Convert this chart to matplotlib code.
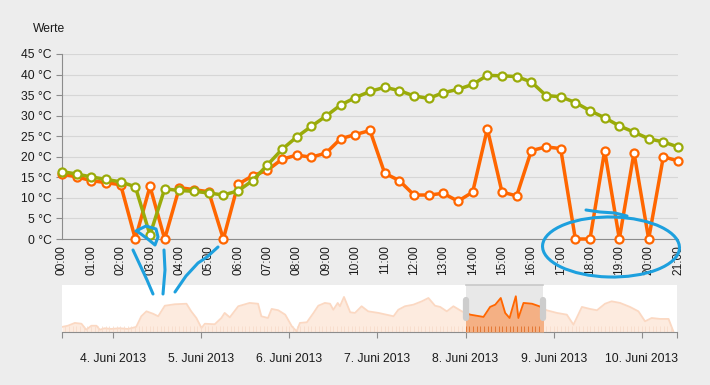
import numpy as np
import matplotlib
matplotlib.use('Agg')
import matplotlib.pyplot as plt
from matplotlib.patches import Ellipse, Rectangle
from matplotlib.lines import Line2D

plt.rcParams['font.family'] = ['Liberation Sans', 'DejaVu Sans']

# main chart data: 8. Juni 2013, every 30 minutes
time_labels = ['%02d:00' % h for h in range(22)]
hours = np.arange(0, 21.5, 0.5)

orange_vals = [15.8, 15.1, 14.2, 13.7, 13.2, 0, 12.8, 0, 12.5, 12.0, 11.5, 0,
               13.3, 15.4, 16.7, 19.4, 20.4, 19.9, 20.9, 24.4, 25.4, 26.4,
               16.0, 14.2, 10.7, 10.7, 11.1, 9.2, 11.4, 26.8, 11.4, 10.5,
               21.5, 22.4, 22.0, 0, 0, 21.5, 0, 21.0, 0, 20.0, 19.0]
green_vals = [16.4, 15.8, 15.1, 14.5, 13.9, 12.7, 1.0, 12.2, 11.8, 11.6, 11.2, 10.7,
              11.7, 14.2, 18.0, 21.8, 24.8, 27.4, 29.9, 32.6, 34.4, 35.9,
              36.9, 36.1, 34.8, 34.2, 35.6, 36.4, 37.6, 39.8, 39.7, 39.5,
              38.2, 34.9, 34.6, 33.2, 31.2, 29.5, 27.5, 26.0, 24.4, 23.6, 22.4]

# navigator data: hours since 3. Juni 2013 00:00
nav_hours = [10.1, 11.7, 13.6, 15.4, 16.7, 18.1, 19.5, 20.4, 21.7, 23.5,
             25.8, 28.1, 30.3, 31.7, 33.1, 34.9, 36.3, 38.1, 40.8, 44.0,
             45.3, 46.7, 48.1, 49.0, 51.7, 53.5, 54.4, 55.8, 58.1, 61.2,
             63.5, 64.4, 66.2, 67.2, 69.0, 70.9, 72.7, 74.0, 74.9, 76.8,
             78.6, 79.9, 81.7, 83.1, 84.0, 85.2, 85.8, 86.9, 88.6, 89.9,
             91.7, 93.5, 96.3, 100.4, 101.7, 103.5, 105.8, 108.1, 109.9, 111.7,
             113.1, 114.9, 116.7, 119.0, 121.3, 124.9, 126.7, 128.1, 129.6, 130.8,
             132.0, 133.7, 134.4, 135.8, 138.1, 140.1, 142.1, 144.9, 147.6, 149.4,
             151.7, 153.9, 155.8, 158.0, 159.8, 162.1, 164.8, 167.1, 168.9, 170.7,
             173.0, 175.3, 176.6]
nav_vals = [3.8, 4.7, 6.8, 6.2, 1.7, 4.7, 4.7, 1.7, 2.8, 2.3,
            2.8, 2.3, 3.8, 11.8, 15.5, 13.7, 11.8, 19.7, 20.8, 21.2,
            15.5, 10.5, 3.0, 6.2, 5.8, 10.5, 14.3, 11.0, 19.3, 21.8,
            21.2, 11.8, 10.5, 17.3, 16.3, 13.0, 4.3, 0.5, 6.8, 7.3,
            14.3, 19.7, 21.8, 21.2, 16.7, 21.8, 19.3, 26.3, 14.8, 14.3,
            19.3, 15.5, 14.3, 11.8, 16.7, 19.3, 20.5, 23.0, 25.5, 19.7,
            18.8, 15.5, 19.3, 15.5, 13.0, 11.3, 18.8, 20.5, 25.5, 14.3,
            10.5, 26.8, 10.5, 21.8, 21.2, 19.3, 16.3, 14.3, 13.0, 5.5,
            18.8, 17.3, 16.3, 21.2, 23.0, 21.8, 18.8, 15.5, 8.0, 10.5,
            9.8, 9.8, 0.5]
day_hours = [24, 48, 72, 96, 120, 144, 168]
day_labels = ['4. Juni 2013', '5. Juni 2013', '6. Juni 2013', '7. Juni 2013',
              '8. Juni 2013', '9. Juni 2013', '10. Juni 2013']
sel_start, sel_end = 120, 141

W, H = 710, 385
bg = '#EDEDED'
orange = '#FF6600'
green = '#9AAB0A'
txt = '#1A1A1A'

fig = plt.figure(figsize=(W / 100, H / 100), dpi=100, facecolor=bg)

# main chart
ax = fig.add_axes([62 / W, 1 - 239 / H, 616 / W, 185 / H], facecolor=bg)
ax.plot(hours, orange_vals, color=orange, lw=2.5, marker='o', ms=5.8,
        mfc='white', mec=orange, mew=1.6, clip_on=False, zorder=3)
ax.plot(hours, green_vals, color=green, lw=2.5, marker='o', ms=5.8,
        mfc='white', mec=green, mew=1.6, clip_on=False, zorder=4)
ax.set_xlim(0, 21)
ax.set_ylim(0, 45)
ax.set_yticks(range(0, 50, 5))
ax.set_yticklabels(['%d °C' % v for v in range(0, 50, 5)], fontsize=8.7, color=txt)
ax.set_xticks(range(22))
ax.set_xticklabels(time_labels, rotation=90, fontsize=8.6, color=txt)
ax.tick_params(axis='x', length=0, pad=4.5)
ax.tick_params(axis='y', length=4, width=0.8, color='#8C8C8C', pad=3.5)
ax.yaxis.grid(True, color='#D6D6D6', lw=0.8)
ax.set_axisbelow(True)
for s in ['top', 'right']:
    ax.spines[s].set_visible(False)
for s in ['left', 'bottom']:
    ax.spines[s].set_color('#8C8C8C')
    ax.spines[s].set_linewidth(0.8)
fig.text(33 / W, 1 - 29 / H, 'Werte', fontsize=8.7, color=txt, va='center', ha='left')

# navigator
nav = fig.add_axes([62 / W, 1 - 332 / H, 615 / W, 47 / H], facecolor='white')
nav.set_xlim(10.1, 177.6)
nav.set_ylim(0, 35.25)
nav.axvspan(sel_start, sel_end, color='#E8E8E8', lw=0, zorder=0)
nav.plot([sel_start, sel_end], [1, 1], transform=nav.get_xaxis_transform(),
         color='#C8C8C8', lw=1.2, zorder=1, clip_on=False)
nav.fill_between(nav_hours, 0, nav_vals, color='#FDEBDF', lw=0, zorder=1)
nav.plot(nav_hours, nav_vals, color='#FBD8C2', lw=1.3, zorder=2)
hour_ticks = np.arange(11, 177, 1.0)
nav.vlines(hour_ticks, 0, 0.12, transform=nav.get_xaxis_transform(),
           color='#F8DCCB', lw=0.6, zorder=2)
clip = Rectangle((sel_start, 0), sel_end - sel_start, 40, transform=nav.transData)
sel_fill = nav.fill_between(nav_hours, 0, nav_vals, color='#F4B084', lw=0, zorder=3)
sel_fill.set_clip_path(clip)
sel_line, = nav.plot(nav_hours, nav_vals, color=orange, lw=1.3, zorder=4)
sel_line.set_clip_path(clip)
sel_ticks = nav.vlines(hour_ticks, 0, 0.12, transform=nav.get_xaxis_transform(),
                       color='#E0702A', lw=0.6, zorder=4)
sel_ticks.set_clip_path(Rectangle((sel_start, 0), sel_end - sel_start, 1,
                                  transform=nav.get_xaxis_transform()))
for hx in [sel_start, sel_end]:
    nav.plot([hx, hx], [0.29, 0.68], transform=nav.get_xaxis_transform(),
             color='#CDCDCD', lw=4.5, solid_capstyle='round', zorder=5, clip_on=False)
nav.set_yticks([])
nav.set_xticks([10.1] + day_hours + [177.6])
nav.set_xticklabels([''] + day_labels + [''], fontsize=8.7, color=txt)
nav.tick_params(axis='x', length=4, width=0.8, color='#8C8C8C', pad=11)
for s in ['top', 'right', 'left']:
    nav.spines[s].set_visible(False)
nav.spines['bottom'].set_color('#8C8C8C')
nav.spines['bottom'].set_linewidth(0.8)


# hand drawn blue marks on the screenshot
def px(points):
    return [p[0] / W for p in points], [1 - p[1] / H for p in points]


blue = '#1DA0DE'
marks = [
    [(136, 231), (146, 226), (156, 229), (158, 237), (155, 245), (149, 240), (141, 234), (138, 232)],
    [(133, 250), (140, 265), (147, 280), (153, 294)],
    [(164, 250), (165, 270), (163, 294)],
    [(218, 247), (207, 257), (198, 263), (186, 276), (175, 292)],
    [(586, 210), (600, 212), (615, 213), (627, 216)],
]
for m in marks:
    xs, ys = px(m)
    fig.add_artist(Line2D(xs, ys, color=blue, lw=2.2, solid_capstyle='round',
                          solid_joinstyle='round', transform=fig.transFigure, zorder=10))
ell = Ellipse((611 / W, 1 - 247 / H), 137 / W, 60 / H, angle=-3, fill=False,
              ec=blue, lw=2.2, transform=fig.transFigure, zorder=10)
fig.add_artist(ell)

fig.savefig('out.png', dpi=100, facecolor=bg)
